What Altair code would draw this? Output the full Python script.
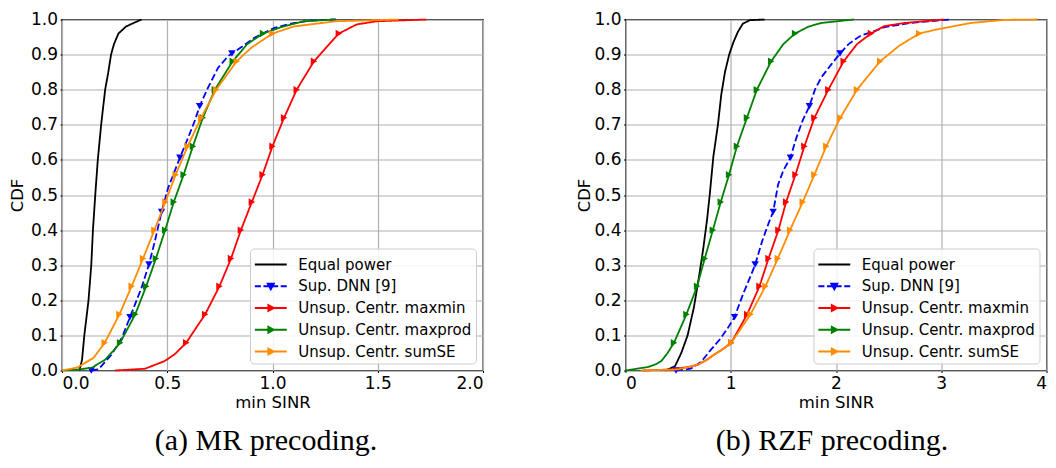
import altair as alt
import pandas as pd

SERIES = ["Equal power", "Sup. DNN [9]", "Unsup. Centr. maxmin",
          "Unsup. Centr. maxprod", "Unsup. Centr. sumSE"]
COLORS = ["#000000", "#0000ff", "#ff0000", "#008000", "#ff8c00"]
MARKERS = [None, "triangle-down", "triangle-right", "triangle-right", "triangle-right"]
DASHES = [[1, 0], [7, 3], [1, 0], [1, 0], [1, 0]]

# ---------------- (a) MR precoding ----------------
MR_EQ_X = [0.083, 0.095, 0.106, 0.126, 0.139, 0.147, 0.158, 0.170, 0.186, 0.205,
           0.220, 0.233, 0.247, 0.268, 0.304, 0.340, 0.378]
MR_EQ_Y = [0.0, 0.03, 0.10, 0.20, 0.30, 0.40, 0.50, 0.60, 0.70, 0.80,
           0.85, 0.90, 0.93, 0.96, 0.98, 0.99, 1.0]

MR_DNN_X = [0.139, 0.173, 0.236, 0.284, 0.323, 0.378, 0.413, 0.441, 0.473, 0.504,
            0.560, 0.599, 0.630, 0.654, 0.693, 0.741, 0.788, 0.807, 0.859, 0.914,
            0.961, 1.009, 1.10, 1.18, 1.30]
MR_DNN_Y = [0.0, 0.003, 0.046, 0.093, 0.152, 0.236, 0.302, 0.368, 0.452, 0.52,
            0.606, 0.663, 0.71, 0.753, 0.805, 0.862, 0.895, 0.903, 0.924, 0.948,
            0.962, 0.976, 0.99, 0.997, 1.0]
MR_DNN_MX = [0.139, 0.323, 0.413, 0.473, 0.560, 0.654, 0.807]
MR_DNN_MY = [0.0, 0.152, 0.302, 0.452, 0.606, 0.753, 0.903]

MR_MAXMIN_X = [0.252, 0.394, 0.488, 0.535, 0.590, 0.680, 0.748, 0.803, 0.850, 0.902,
               0.953, 1.000, 1.055, 1.115, 1.197, 1.315, 1.400, 1.496, 1.730]
MR_MAXMIN_Y = [0.0, 0.005, 0.027, 0.046, 0.079, 0.16, 0.24, 0.319, 0.40, 0.48,
               0.558, 0.639, 0.72, 0.80, 0.881, 0.96, 0.986, 0.995, 1.0]
MR_MAXMIN_MX = [0.590, 0.680, 0.748, 0.803, 0.850, 0.902, 0.953, 1.000, 1.055,
                1.115, 1.197, 1.315]
MR_MAXMIN_MY = [0.079, 0.16, 0.24, 0.319, 0.40, 0.48, 0.558, 0.639, 0.72, 0.80,
                0.881, 0.96]

MR_MAXPROD_X = [0.0, 0.080, 0.142, 0.205, 0.250, 0.276, 0.348, 0.400, 0.446, 0.490,
                0.531, 0.578, 0.622, 0.669, 0.726, 0.811, 0.880, 0.955, 1.050, 1.150,
                1.300]
MR_MAXPROD_Y = [0.0, 0.003, 0.008, 0.031, 0.06, 0.079, 0.16, 0.24, 0.319, 0.40,
                0.48, 0.558, 0.639, 0.72, 0.80, 0.881, 0.93, 0.96, 0.98, 0.995, 1.0]
MR_MAXPROD_MX = [0.276, 0.348, 0.400, 0.446, 0.490, 0.531, 0.578, 0.622, 0.669,
                 0.726, 0.811, 0.955]
MR_MAXPROD_MY = [0.079, 0.16, 0.24, 0.319, 0.40, 0.48, 0.558, 0.639, 0.72, 0.80,
                 0.881, 0.96]

MR_SUMSE_X = [0.0, 0.070, 0.150, 0.203, 0.273, 0.331, 0.385, 0.439, 0.491, 0.540,
              0.597, 0.661, 0.732, 0.830, 0.900, 1.000, 1.100, 1.300, 1.600]
MR_SUMSE_Y = [0.0, 0.008, 0.036, 0.079, 0.16, 0.24, 0.319, 0.40, 0.48, 0.558,
              0.639, 0.72, 0.80, 0.881, 0.92, 0.96, 0.98, 0.995, 1.0]
MR_SUMSE_MX = [0.203, 0.273, 0.331, 0.385, 0.439, 0.491, 0.540, 0.597, 0.661,
               0.732, 0.830, 1.000]
MR_SUMSE_MY = [0.079, 0.16, 0.24, 0.319, 0.40, 0.48, 0.558, 0.639, 0.72, 0.80,
               0.881, 0.96]

# ---------------- (b) RZF precoding ----------------
RZF_EQ_X = [0.380, 0.470, 0.530, 0.590, 0.650, 0.700, 0.740, 0.775, 0.800, 0.835,
            0.878, 0.910, 0.945, 0.985, 1.025, 1.068, 1.115, 1.180, 1.320]
RZF_EQ_Y = [0.0, 0.012, 0.05, 0.10, 0.18, 0.27, 0.35, 0.43, 0.50, 0.61,
            0.70, 0.786, 0.85, 0.90, 0.935, 0.965, 0.988, 0.998, 1.0]

RZF_DNN_X = [0.48, 0.62, 0.72, 0.80, 0.90, 0.97, 1.036, 1.12, 1.19, 1.232, 1.30,
             1.36, 1.403, 1.45, 1.50, 1.567, 1.62, 1.68, 1.747, 1.80, 1.86, 1.95,
             2.038, 2.12, 2.24, 2.35, 2.46, 2.70, 2.96, 3.10]
RZF_DNN_Y = [0.0, 0.005, 0.025, 0.055, 0.09, 0.12, 0.152, 0.22, 0.27, 0.302, 0.37,
             0.42, 0.452, 0.53, 0.57, 0.606, 0.66, 0.71, 0.753, 0.80, 0.835, 0.87,
             0.903, 0.93, 0.955, 0.965, 0.978, 0.99, 0.997, 1.0]
RZF_DNN_MX = [0.48, 1.036, 1.232, 1.403, 1.567, 1.747, 2.038]
RZF_DNN_MY = [0.0, 0.152, 0.302, 0.452, 0.606, 0.753, 0.903]

RZF_MAXMIN_X = [0.17, 0.436, 0.60, 0.69, 0.77, 0.847, 0.93, 1.005, 1.156, 1.273,
                1.359, 1.453, 1.526, 1.615, 1.700, 1.795, 1.927, 2.073, 2.20, 2.332,
                2.458, 2.650, 3.030]
RZF_MAXMIN_Y = [0.0, 0.003, 0.010, 0.017, 0.03, 0.046, 0.062, 0.079, 0.16, 0.24,
                0.319, 0.40, 0.48, 0.558, 0.639, 0.72, 0.80, 0.881, 0.93, 0.96,
                0.981, 0.99, 1.0]
RZF_MAXMIN_MX = [1.005, 1.156, 1.273, 1.359, 1.453, 1.526, 1.615, 1.700, 1.795,
                 1.927, 2.073, 2.332]
RZF_MAXMIN_MY = [0.079, 0.16, 0.24, 0.319, 0.40, 0.48, 0.558, 0.639, 0.72, 0.80,
                 0.881, 0.96]

RZF_MAXPROD_X = [0.0, 0.215, 0.290, 0.341, 0.400, 0.461, 0.579, 0.680, 0.753, 0.830,
                 0.905, 0.984, 1.059, 1.154, 1.248, 1.384, 1.500, 1.611, 1.740,
                 1.858, 2.170]
RZF_MAXPROD_Y = [0.0, 0.01, 0.018, 0.027, 0.05, 0.079, 0.16, 0.24, 0.319, 0.40,
                 0.48, 0.558, 0.639, 0.72, 0.80, 0.881, 0.93, 0.96, 0.98, 0.99, 1.0]
RZF_MAXPROD_MX = [0.461, 0.579, 0.680, 0.753, 0.830, 0.905, 0.984, 1.059, 1.154,
                  1.248, 1.384, 1.611]
RZF_MAXPROD_MY = [0.079, 0.16, 0.24, 0.319, 0.40, 0.48, 0.558, 0.639, 0.72, 0.80,
                  0.881, 0.96]

RZF_SUMSE_X = [0.15, 0.50, 0.60, 0.69, 0.77, 0.847, 0.93, 1.005, 1.188, 1.330,
               1.447, 1.564, 1.684, 1.795, 1.908, 2.041, 2.199, 2.420, 2.600, 2.790,
               2.964, 3.280, 3.600, 3.910]
RZF_SUMSE_Y = [0.0, 0.003, 0.010, 0.017, 0.03, 0.046, 0.062, 0.079, 0.16, 0.24,
               0.319, 0.40, 0.48, 0.558, 0.639, 0.72, 0.80, 0.881, 0.925, 0.96,
               0.972, 0.99, 0.999, 1.0]
RZF_SUMSE_MX = [1.005, 1.188, 1.330, 1.447, 1.564, 1.684, 1.795, 1.908, 2.041,
                2.199, 2.420, 2.790]
RZF_SUMSE_MY = [0.079, 0.16, 0.24, 0.319, 0.40, 0.48, 0.558, 0.639, 0.72, 0.80,
                0.881, 0.96]

MR_LINES = [(MR_EQ_X, MR_EQ_Y), (MR_DNN_X, MR_DNN_Y), (MR_MAXMIN_X, MR_MAXMIN_Y),
            (MR_MAXPROD_X, MR_MAXPROD_Y), (MR_SUMSE_X, MR_SUMSE_Y)]
MR_MARKS = [None, (MR_DNN_MX, MR_DNN_MY), (MR_MAXMIN_MX, MR_MAXMIN_MY),
            (MR_MAXPROD_MX, MR_MAXPROD_MY), (MR_SUMSE_MX, MR_SUMSE_MY)]
RZF_LINES = [(RZF_EQ_X, RZF_EQ_Y), (RZF_DNN_X, RZF_DNN_Y), (RZF_MAXMIN_X, RZF_MAXMIN_Y),
             (RZF_MAXPROD_X, RZF_MAXPROD_Y), (RZF_SUMSE_X, RZF_SUMSE_Y)]
RZF_MARKS = [None, (RZF_DNN_MX, RZF_DNN_MY), (RZF_MAXMIN_MX, RZF_MAXMIN_MY),
             (RZF_MAXPROD_MX, RZF_MAXPROD_MY), (RZF_SUMSE_MX, RZF_SUMSE_MY)]

Y_TICKS = [0.0, 0.1, 0.2, 0.3, 0.4, 0.5, 0.6, 0.7, 0.8, 0.9, 1.0]
MR_X_TICKS = [0.0, 0.5, 1.0, 1.5, 2.0]
RZF_X_TICKS = [0, 1, 2, 3, 4]

# legend symbols: line + marker drawn as one custom path
LINE = "M-1.45,0H1.45"
DASHED = "M-1.45,0H-0.9M-0.67,0H-0.12M0.12,0H0.67M0.9,0H1.45"
TRI_DOWN = "M-0.28,-0.23L0.28,-0.23L0,0.28Z"
TRI_RIGHT = "M-0.23,-0.28L0.28,0L-0.23,0.28Z"
LEGEND_PATHS = [LINE, DASHED + TRI_DOWN, LINE + TRI_RIGHT, LINE + TRI_RIGHT, LINE + TRI_RIGHT]


def switch(values):
    expr = f"'{values[-1]}'"
    for name, v in reversed(list(zip(SERIES[:-1], values[:-1]))):
        expr = f"datum.value === '{name}' ? '{v}' : ({expr})"
    return expr


legend = alt.Legend(
    title=None, orient="bottom-right", offset=7.5,
    labelFont="DejaVu Sans", labelFontSize=15, labelColor="black", labelLimit=400,
    fillColor="rgba(255,255,255,0.85)", strokeColor="#cccccc", cornerRadius=4,
    padding=4, rowPadding=1.75, symbolSize=484, symbolOffset=4.8, labelOffset=15.5,
    symbolType=alt.ExprRef(expr=switch(LEGEND_PATHS)),
    symbolFillColor=alt.ExprRef(expr=switch(COLORS)),
    symbolStrokeColor=alt.ExprRef(expr=switch(COLORS)),
    symbolStrokeWidth=1.8, symbolOpacity=1,
)

color = alt.Color("series:N", scale=alt.Scale(domain=SERIES, range=COLORS), legend=legend)

PLOT_W = 421
PLOT_H = 351


def panel(lines, marks, xmax, xticks, xfmt, caption, ytitle_pad, cap_dx):
    xenc = alt.X("x:Q", scale=alt.Scale(domain=[0, xmax], nice=False),
                 axis=alt.Axis(values=xticks, format=xfmt, title="min SINR"))
    yenc = alt.Y("y:Q", scale=alt.Scale(domain=[0, 1], nice=False),
                 axis=alt.Axis(values=Y_TICKS, format=".1f", title="CDF",
                               titlePadding=ytitle_pad))
    layers = []
    for k, name in enumerate(SERIES):
        xs, ys = lines[k]
        df = pd.DataFrame({"x": xs, "y": ys, "series": name, "i": range(len(xs))})
        layers.append(alt.Chart(df).mark_line(strokeWidth=1.8, strokeDash=DASHES[k])
                      .encode(x=xenc, y=yenc, color=color, order="i:Q"))
        if marks[k] is not None:
            mx, my = marks[k]
            dm = pd.DataFrame({"x": mx, "y": my, "series": name})
            layers.append(alt.Chart(dm).mark_point(filled=True, shape=MARKERS[k], size=55,
                                                   opacity=1, strokeWidth=0)
                          .encode(x=xenc, y=yenc, color=color))
    return alt.layer(*layers).properties(
        width=PLOT_W, height=PLOT_H,
        title=alt.TitleParams(caption, orient="bottom", anchor="middle", frame="group",
                              dx=cap_dx, offset=15),
    )


left = panel(MR_LINES, MR_MARKS, 2.0, MR_X_TICKS, ".1f", "(a) MR precoding.", 5, -6.5)
right = panel(RZF_LINES, RZF_MARKS, 4, RZF_X_TICKS, "d", "(b) RZF precoding.", 1, -4)

chart = (
    alt.hconcat(left, right, spacing=90.5)
    .resolve_scale(color="independent")
    .properties(padding={"left": 0, "top": 1.5, "right": 0, "bottom": 0})
    .configure_view(stroke="black", strokeWidth=1.3)
    .configure_axis(
        labelFont="DejaVu Sans", labelFontSize=17, labelColor="black",
        titleFont="DejaVu Sans", titleFontSize=16.5, titleFontWeight="normal",
        titleColor="black", tickColor="black", tickSize=2, tickWidth=1,
        labelPadding=2.5, gridColor="#b0b0b0", gridWidth=1.2,
        gridOpacity=1, domain=False,
    )
    .configure_axisX(titlePadding=3)
    .configure_title(font="Liberation Serif", fontSize=30, fontWeight="normal", color="black")
)

chart.save("out.html", embed_options={"renderer": "svg", "actions": False})
